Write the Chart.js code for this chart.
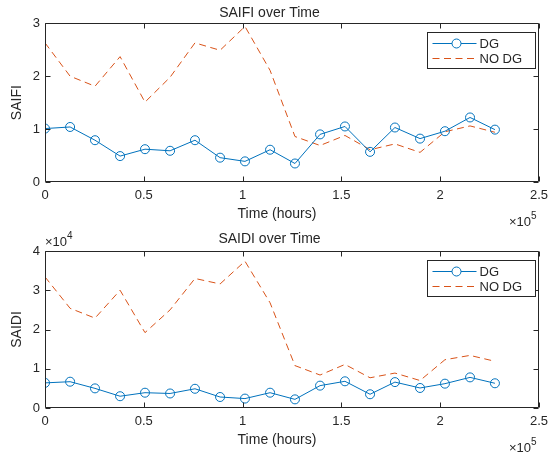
<!DOCTYPE html>
<html>
<head>
<meta charset="utf-8">
<title>SAIFI / SAIDI over Time</title>
<script src="https://cdn.jsdelivr.net/npm/chart.js@4.4.0/dist/chart.umd.min.js"></script>
<style>
  body { margin: 0; background: #fff; }
  #wrap { position: relative; width: 556px; height: 452px; }
  canvas { position: absolute; left: 0; }
  #saifiChart { top: 0; }
  #saidiChart { top: 226px; }
</style>
</head>
<body>
<div id="wrap">
  <canvas id="saifiChart" width="556" height="226"></canvas>
  <canvas id="saidiChart" width="556" height="226"></canvas>
</div>
<script>
// Sample times (hours)
const timeHours = [0, 12700, 25300, 38000, 50600, 63300, 75900, 88600, 101200, 113900,
                   126500, 139200, 151800, 164500, 177100, 189800, 202400, 215100, 227700];

// SAIFI (interruptions / customer)
const saifiDG   = [1.01, 1.04, 0.79, 0.49, 0.62, 0.59, 0.79, 0.46, 0.39, 0.61,
                   0.35, 0.90, 1.05, 0.57, 1.03, 0.82, 0.96, 1.22, 0.99];
const saifiNoDG = [2.63, 2.00, 1.81, 2.37, 1.51, 1.98, 2.63, 2.49, 2.94, 2.11,
                   0.86, 0.69, 0.88, 0.61, 0.72, 0.56, 0.95, 1.06, 0.94];

// SAIDI (minutes / customer)
const saidiDG   = [6400, 6700, 5000, 3000, 3900, 3700, 4900, 2800, 2400, 3900,
                   2200, 5700, 6800, 3500, 6600, 5100, 6200, 7800, 6300];
const saidiNoDG = [33400, 25400, 22900, 30000, 19200, 25000, 33000, 31600, 37400, 26800,
                   10800, 8400, 11100, 7700, 8900, 7000, 12300, 13400, 11900];

const xTicks = [0, 50000, 100000, 150000, 200000, 250000];
const saifiTicks = [0, 1, 2, 3];
const saidiTicks = [0, 10000, 20000, 30000, 40000];

const FONT = '"Liberation Sans", Arial, Helvetica, sans-serif';
const INK = '#262626';
const BLUE = '#0072BD';
const ORANGE = '#D95319';

function pairs(xs, ys) {
  return xs.map((x, i) => ({ x: x, y: ys[i] }));
}

// box outline + inward tick marks on all four sides
const boxTicks = {
  id: 'boxTicks',
  afterDraw(chart) {
    const { ctx, chartArea: a, scales: { x, y } } = chart;
    const L = Math.round(a.left) + 0.5, R = Math.round(a.right) - 0.5;
    const T = Math.round(a.top) + 0.5, B = Math.round(a.bottom) - 0.5;
    const len = 5;
    ctx.save();
    ctx.lineWidth = 1;
    ctx.strokeStyle = INK;
    ctx.beginPath();
    ctx.rect(L, T, R - L, B - T);
    x.ticks.forEach(t => {
      const px = Math.round(x.getPixelForValue(t.value)) + 0.5;
      ctx.moveTo(px, B); ctx.lineTo(px, B - len);
      ctx.moveTo(px, T); ctx.lineTo(px, T + len);
    });
    y.ticks.forEach(t => {
      const py = Math.round(y.getPixelForValue(t.value)) + 0.5;
      ctx.moveTo(L, py); ctx.lineTo(L + len, py);
      ctx.moveTo(R, py); ctx.lineTo(R - len, py);
    });
    ctx.stroke();
    ctx.restore();
  }
};

// legend box drawn inside the plot, top right
const boxLegend = {
  id: 'boxLegend',
  afterDraw(chart) {
    const { ctx, chartArea: a } = chart;
    const w = 108, h = 36;
    const left = Math.round(a.right) - 4 - w + 0.5;
    const top = Math.round(a.top) + 9 + 0.5;
    ctx.save();
    ctx.fillStyle = '#fff';
    ctx.fillRect(left, top, w, h);
    ctx.lineWidth = 1;
    ctx.strokeStyle = INK;
    ctx.strokeRect(left, top, w, h);
    chart.data.datasets.forEach((ds, i) => {
      const cy = top + 11 + i * 15;
      ctx.strokeStyle = ds.borderColor;
      ctx.lineWidth = ds.borderWidth;
      ctx.setLineDash(ds.borderDash || []);
      ctx.beginPath();
      ctx.moveTo(left + 5, cy);
      ctx.lineTo(left + 49, cy);
      ctx.stroke();
      ctx.setLineDash([]);
      if (ds.pointRadius > 0) {
        ctx.beginPath();
        ctx.arc(left + 29, cy, ds.pointRadius, 0, Math.PI * 2);
        ctx.fillStyle = '#fff';
        ctx.fill();
        ctx.stroke();
      }
      ctx.fillStyle = INK;
      ctx.font = '13px ' + FONT;
      ctx.textBaseline = 'middle';
      ctx.textAlign = 'left';
      ctx.fillText(ds.label, left + 52, cy + 1);
    });
    ctx.restore();
  }
};

// x-axis caption and "×10^n" exponent labels
const axisTexts = {
  id: 'axisTexts',
  afterDraw(chart, args, opts) {
    const { ctx, chartArea: a } = chart;
    ctx.save();
    ctx.fillStyle = INK;
    ctx.font = '14px ' + FONT;
    ctx.textAlign = 'center';
    ctx.textBaseline = 'middle';
    ctx.fillText(opts.xLabel, chart.width / 2 - 1, a.bottom + 32);
    ctx.textBaseline = 'alphabetic';
    ctx.textAlign = 'left';
    const put = (x0, base, exp) => {
      ctx.font = '13px ' + FONT;
      ctx.fillText('\u00d710', x0, base);
      const w = ctx.measureText('\u00d710').width;
      ctx.font = '10px ' + FONT;
      ctx.fillText(String(exp), x0 + w, base - 7);
    };
    if (opts.xExp) put(a.right - 30, a.bottom + 44, opts.xExp);
    if (opts.yExp) put(a.left, a.top - 5, opts.yExp);
    ctx.restore();
  }
};

function makeChart(id, title, yLabel, dg, noDg, yMax, yTicks, yDiv, yExp, titlePad) {
  return new Chart(document.getElementById(id), {
    type: 'line',
    data: {
      datasets: [{
        label: 'DG',
        data: pairs(timeHours, dg),
        borderColor: BLUE,
        borderWidth: 1,
        pointStyle: 'circle',
        pointRadius: 4.5,
        pointBorderColor: BLUE,
        pointBackgroundColor: 'rgba(0,0,0,0)',
        pointBorderWidth: 1,
        tension: 0,
        fill: false
      }, {
        label: 'NO DG',
        data: pairs(timeHours, noDg),
        borderColor: ORANGE,
        borderWidth: 1,
        borderDash: [7, 4.5],
        pointRadius: 0,
        tension: 0,
        fill: false
      }]
    },
    options: {
      responsive: false,
      animation: false,
      layout: { padding: { left: 0, right: 17, top: 0, bottom: 0 } },
      plugins: {
        legend: { display: false },
        tooltip: { enabled: false },
        title: {
          display: true,
          text: title,
          color: INK,
          font: { family: FONT, size: 14, weight: 'normal' },
          padding: titlePad
        },
        axisTexts: { xLabel: 'Time (hours)', xExp: 5, yExp: yExp }
      },
      scales: {
        x: {
          type: 'linear',
          min: 0,
          max: 250000,
          afterBuildTicks: s => { s.ticks = xTicks.map(v => ({ value: v })); },
          afterFit: s => { s.height = 44; },
          grid: { display: false, drawTicks: false },
          border: { display: false },
          ticks: {
            color: INK,
            padding: 6,
            maxRotation: 0,
            font: { family: FONT, size: 13 },
            callback: v => String(v / 100000)
          }
        },
        y: {
          min: 0,
          max: yMax,
          afterBuildTicks: s => { s.ticks = yTicks.map(v => ({ value: v })); },
          afterFit: s => { s.width = 45; },
          grid: { display: false, drawTicks: false },
          border: { display: false },
          ticks: {
            color: INK,
            padding: 5,
            font: { family: FONT, size: 13 },
            callback: v => String(v / yDiv)
          },
          title: {
            display: true,
            text: yLabel,
            color: INK,
            font: { family: FONT, size: 14 },
            padding: { top: 8.6, bottom: 0 }
          }
        }
      }
    },
    plugins: [boxTicks, boxLegend, axisTexts]
  });
}

makeChart('saifiChart', 'SAIFI over Time', 'SAIFI', saifiDG, saifiNoDG,
          3, saifiTicks, 1, null, { top: 4.6, bottom: 1.9 });
makeChart('saidiChart', 'SAIDI over Time', 'SAIDI', saidiDG, saidiNoDG,
          40000, saidiTicks, 10000, 4, { top: 4.6, bottom: 3.6 });
</script>
</body>
</html>
